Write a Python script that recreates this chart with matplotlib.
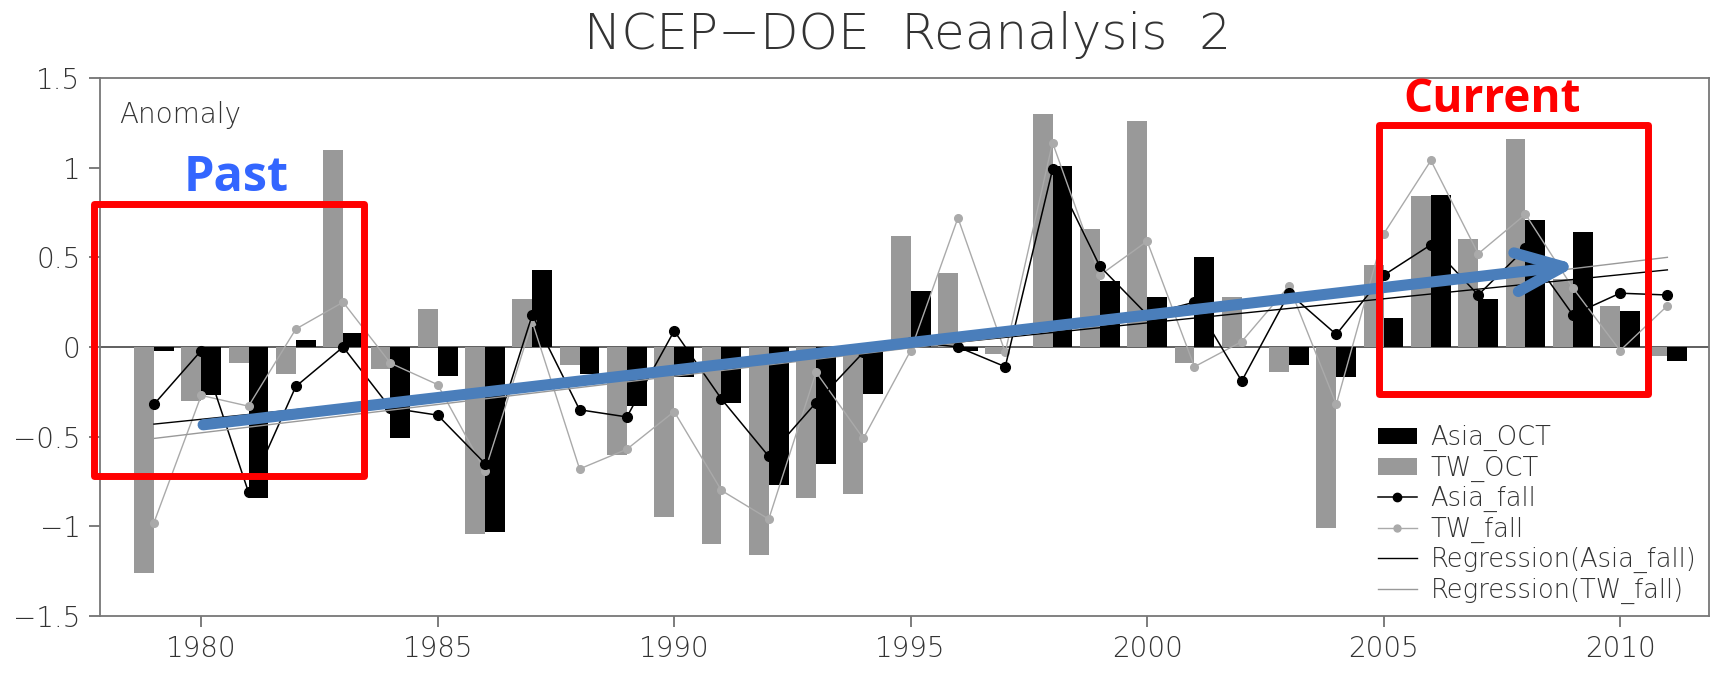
import matplotlib
matplotlib.use("Agg")
import matplotlib.pyplot as plt
from matplotlib.patches import Rectangle, FancyArrowPatch, Patch
from matplotlib.lines import Line2D
import numpy as np

years = list(range(1979, 2012))

# October anomalies (bars)
asia_oct = [-0.02, -0.27, -0.84, 0.04, 0.08, -0.51, -0.16, -1.03, 0.43, -0.15,
            -0.33, -0.17, -0.31, -0.77, -0.65, -0.26, 0.31, -0.02, 0.00, 1.01,
            0.37, 0.28, 0.50, 0.00, -0.10, -0.17, 0.16, 0.85, 0.27, 0.71,
            0.64, 0.20, -0.08]
tw_oct = [-1.26, -0.30, -0.09, -0.15, 1.10, -0.12, 0.21, -1.04, 0.27, -0.10,
          -0.60, -0.95, -1.10, -1.16, -0.84, -0.82, 0.62, 0.41, -0.04, 1.30,
          0.66, 1.26, -0.09, 0.28, -0.14, -1.01, 0.46, 0.84, 0.60, 1.16,
          0.38, 0.23, -0.05]

# fall (SON) anomalies (lines)
asia_fall = [-0.32, -0.02, -0.81, -0.22, 0.00, -0.34, -0.38, -0.65, 0.18, -0.35,
             -0.39, 0.09, -0.29, -0.61, -0.31, -0.03, 0.03, 0.00, -0.11, 0.99,
             0.45, 0.18, 0.25, -0.19, 0.30, 0.07, 0.40, 0.57, 0.29, 0.55,
             0.18, 0.30, 0.29]
tw_fall = [-0.98, -0.27, -0.33, 0.10, 0.25, -0.09, -0.21, -0.69, 0.14, -0.68,
           -0.57, -0.36, -0.80, -0.96, -0.14, -0.51, -0.02, 0.72, -0.03, 1.14,
           0.40, 0.59, -0.11, 0.03, 0.34, -0.32, 0.63, 1.04, 0.52, 0.74,
           0.33, -0.02, 0.23]

# linear trend end points
reg_years = [1979, 2011]
reg_asia = [-0.43, 0.43]
reg_tw = [-0.51, 0.50]

xticks = [1980, 1985, 1990, 1995, 2000, 2005, 2010]
yticks = [-1.5, -1, -0.5, 0, 0.5, 1, 1.5]
ytick_labels = ["\u22121.5", "\u22121", "\u22120.5", "0", "0.5", "1", "1.5"]

plt.rcParams["font.family"] = ["DejaVu Sans"]
plt.rcParams["font.weight"] = 200

W, H = 1712, 673
fig = plt.figure(figsize=(W / 100, H / 100), dpi=100)
ax = fig.add_axes([100 / W, (H - 616) / H, 1609 / W, 538 / H])

x = np.array(years)
bw = 0.42
ax.axhline(0, color="#444444", lw=1.2, zorder=1)
ax.bar(x - bw / 2, tw_oct, width=bw, color="#999999", zorder=2)
ax.bar(x + bw / 2, asia_oct, width=bw, color="black", zorder=2)

ax.plot(years, tw_fall, color="#aaaaaa", lw=1.0, marker="o", ms=5.5,
        mfc="#aaaaaa", mec="#aaaaaa", zorder=3)
ax.plot(years, asia_fall, color="black", lw=1.1, marker="o", ms=7, zorder=3)
ax.plot(reg_years, reg_asia, color="black", lw=1.0, zorder=3)
ax.plot(reg_years, reg_tw, color="#999999", lw=1.0, zorder=3)

ax.set_xlim(1977.86, 2011.88)
ax.set_ylim(-1.5, 1.5)
ax.set_xticks(xticks)
ax.set_xticklabels([str(t) for t in xticks])
ax.set_yticks(yticks)
ax.set_yticklabels(ytick_labels)
ax.tick_params(direction="out", length=8, width=1.2, color="#666666",
               labelsize=20, labelcolor="#333333", pad=6)
for s in ax.spines.values():
    s.set_color("#777777")
    s.set_linewidth(1.3)

ax.text(0.012, 0.958, "Anomaly", transform=ax.transAxes, ha="left", va="top",
        fontsize=20, color="#333333")
fig.text(908 / W, 1 - 49 / H, "NCEP\u2212DOE  Reanalysis  2", ha="center",
         va="baseline", fontsize=36, color="#333333")

handles = [
    Patch(fc="black"),
    Patch(fc="#999999"),
    Line2D([], [], color="black", lw=1.1, marker="o", ms=6),
    Line2D([], [], color="#aaaaaa", lw=1.0, marker="o", ms=5, mec="#aaaaaa"),
    Line2D([], [], color="black", lw=1.0),
    Line2D([], [], color="#999999", lw=1.0),
]
labels = ["Asia_OCT", "TW_OCT", "Asia_fall", "TW_fall",
          "Regression(Asia_fall)", "Regression(TW_fall)"]
leg = ax.legend(handles, labels, loc="upper left",
                bbox_to_anchor=(1378 / W, 1 - 425 / H),
                bbox_transform=fig.transFigure, frameon=False, fontsize=18.5,
                handlelength=1.5, handleheight=0.6, handletextpad=0.55,
                labelspacing=0.17, borderpad=0, borderaxespad=0)
for t in leg.get_texts():
    t.set_color("#333333")

# trend arrow and highlighted periods
arrow = FancyArrowPatch((1980.04, -0.434), (2009.1, 0.457),
                        arrowstyle="->,head_length=1.7,head_width=0.7",
                        mutation_scale=20, lw=8, color="#4a7ebb",
                        shrinkA=0, shrinkB=0, joinstyle="round",
                        capstyle="round", zorder=5)
ax.add_patch(arrow)

for x0, y0, x1, y1 in [(1977.73, -0.72, 1983.45, 0.80),
                       (2004.9, -0.26, 2010.6, 1.24)]:
    ax.add_patch(Rectangle((x0, y0), x1 - x0, y1 - y0, fill=False, ec="red",
                           lw=5, joinstyle="round", clip_on=False, zorder=6))

ax.text(1980.75, 0.87, "Past", color="#3366ff", fontsize=35,
        fontweight="bold", family="Open Sans", ha="center", va="baseline",
        zorder=7)
ax.text(2007.3, 1.313, "Current", color="red", fontsize=33,
        fontweight="bold", family="Open Sans", ha="center", va="baseline",
        zorder=7)

fig.savefig("out.png", dpi=100)
